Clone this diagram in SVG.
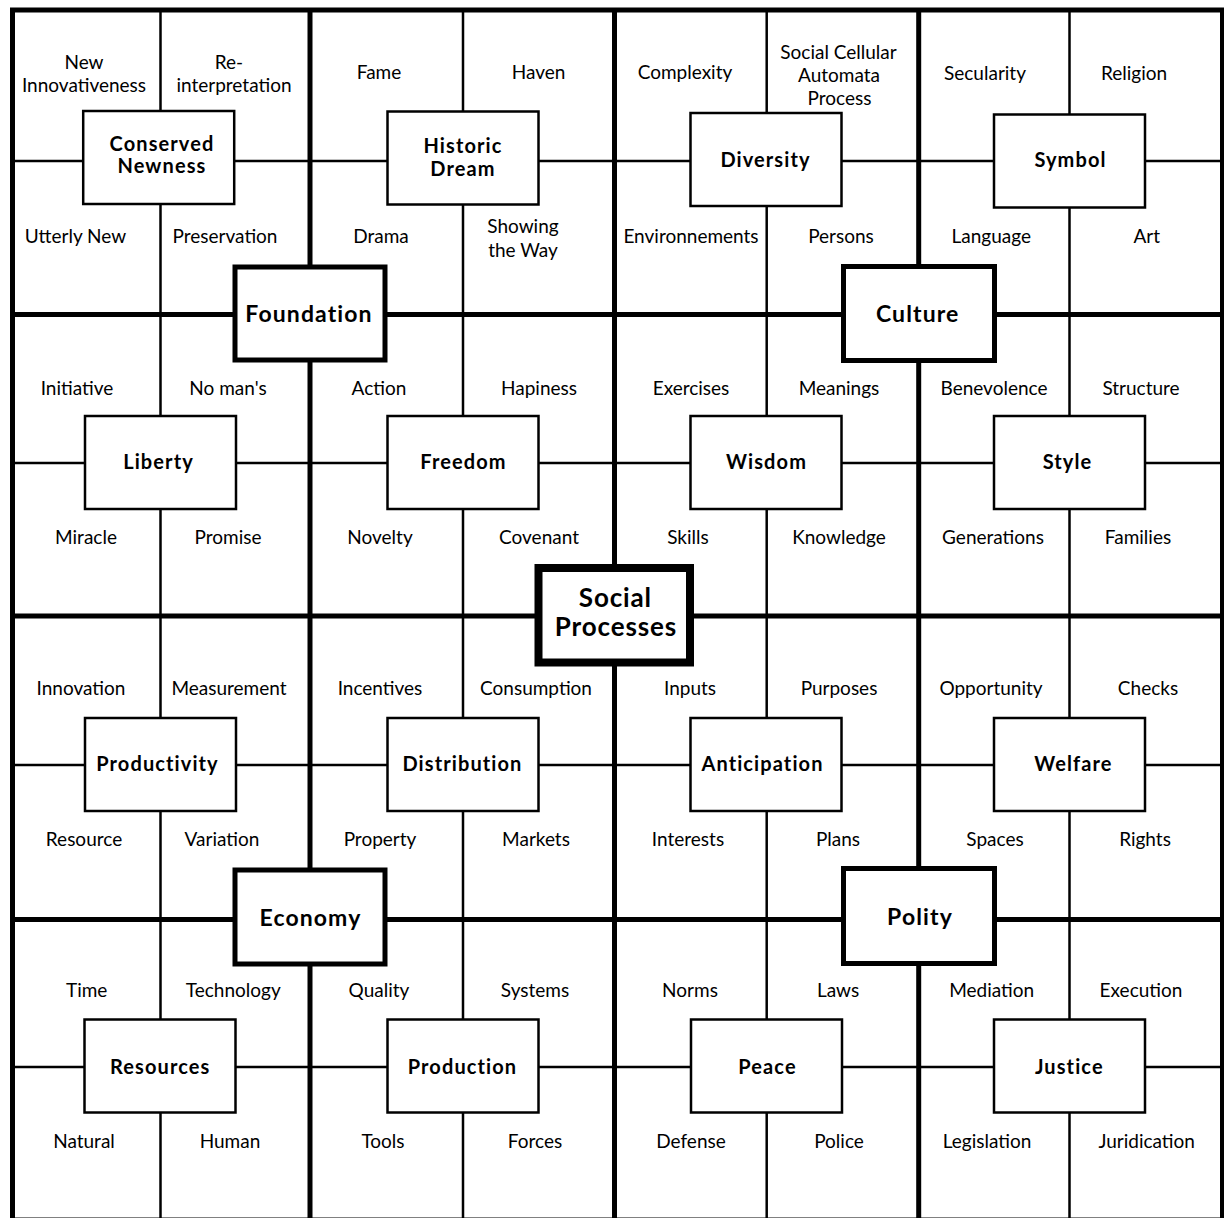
<svg xmlns="http://www.w3.org/2000/svg" width="1224" height="1218" viewBox="0 0 1224 1218">
<style>
.thick{stroke:#000;stroke-width:5;fill:none}
.thin{stroke:#000;stroke-width:2.5;fill:none}
.box{fill:#fff;stroke:#000;stroke-width:2.5}
.major{fill:#fff;stroke:#000;stroke-width:5}
.core{fill:#fff;stroke:#000;stroke-width:8}
text{font-family:Lato,"Liberation Sans",sans-serif;font-size:19px;text-anchor:middle;fill:#000}
.nl{font-weight:700;font-size:20px;letter-spacing:1.1px}
.ml{font-weight:700;font-size:23px;letter-spacing:1.1px}
.cl{font-weight:700;font-size:26px;letter-spacing:0.85px}
</style>
<rect width="1224" height="1218" fill="#fff"/>
<g id="connectors">
<line class="thin" x1="160.5" y1="10" x2="160.5" y2="1218"/>
<line class="thin" x1="463" y1="10" x2="463" y2="1218"/>
<line class="thin" x1="766.7" y1="10" x2="766.7" y2="1218"/>
<line class="thin" x1="1069.5" y1="10" x2="1069.5" y2="1218"/>
<line class="thin" x1="12.5" y1="161" x2="1222" y2="161"/>
<line class="thin" x1="12.5" y1="463" x2="1222" y2="463"/>
<line class="thin" x1="12.5" y1="765" x2="1222" y2="765"/>
<line class="thin" x1="12.5" y1="1067" x2="1222" y2="1067"/>
<line class="thick" x1="310" y1="10" x2="310" y2="1218"/>
<line class="thick" x1="614.5" y1="10" x2="614.5" y2="1218"/>
<line class="thick" x1="918.7" y1="10" x2="918.7" y2="1218"/>
<line class="thick" x1="12.5" y1="314.5" x2="1222" y2="314.5"/>
<line class="thick" x1="12.5" y1="616" x2="1222" y2="616"/>
<line class="thick" x1="12.5" y1="919.5" x2="1222" y2="919.5"/>
<rect class="thick" x="12.5" y="10" width="1210" height="1210"/>
</g>
<g id="labels">
<text x="84" y="69">New</text><text x="84" y="92">Innovativeness</text>
<text x="229" y="69">Re-</text><text x="234" y="92">interpretation</text>
<text x="379" y="78.5">Fame</text>
<text x="538.5" y="78.5">Haven</text>
<text x="685" y="79">Complexity</text>
<text x="838.5" y="59.3">Social Cellular</text><text x="839" y="82">Automata</text><text x="839.5" y="104.5">Process</text>
<text x="985" y="80">Secularity</text>
<text x="1134" y="80">Religion</text>
<text x="75.5" y="242.7">Utterly New</text>
<text x="225" y="242.7">Preservation</text>
<text x="381" y="242.7">Drama</text>
<text x="523" y="233.3">Showing</text><text x="523" y="256.5">the Way</text>
<text x="691" y="242.7">Environnements</text>
<text x="841" y="242.7">Persons</text>
<text x="991.3" y="242.7">Language</text>
<text x="1146.7" y="242.7">Art</text>
<text x="77" y="394.5">Initiative</text>
<text x="228" y="394.5">No man's</text>
<text x="379" y="394.5">Action</text>
<text x="539" y="394.5">Hapiness</text>
<text x="691" y="394.5">Exercises</text>
<text x="839" y="394.5">Meanings</text>
<text x="994" y="394.5">Benevolence</text>
<text x="1141" y="394.5">Structure</text>
<text x="86" y="543.5">Miracle</text>
<text x="228" y="543.5">Promise</text>
<text x="380" y="543.5">Novelty</text>
<text x="539" y="543.5">Covenant</text>
<text x="688" y="543.5">Skills</text>
<text x="839" y="543.5">Knowledge</text>
<text x="993" y="543.5">Generations</text>
<text x="1138" y="543.5">Families</text>
<text x="81" y="694.5">Innovation</text>
<text x="229" y="694.5">Measurement</text>
<text x="380" y="694.5">Incentives</text>
<text x="536" y="694.5">Consumption</text>
<text x="690" y="694.5">Inputs</text>
<text x="839" y="694.5">Purposes</text>
<text x="991" y="694.5">Opportunity</text>
<text x="1148" y="694.5">Checks</text>
<text x="84" y="845.5">Resource</text>
<text x="222" y="845.5">Variation</text>
<text x="380" y="845.5">Property</text>
<text x="536" y="845.5">Markets</text>
<text x="688" y="845.5">Interests</text>
<text x="838" y="845.5">Plans</text>
<text x="995" y="845.5">Spaces</text>
<text x="1145" y="845.5">Rights</text>
<text x="86.7" y="996.7">Time</text>
<text x="233.3" y="996.7">Technology</text>
<text x="379" y="996.7">Quality</text>
<text x="535" y="996.7">Systems</text>
<text x="690" y="996.7">Norms</text>
<text x="838" y="996.7">Laws</text>
<text x="991.7" y="996.7">Mediation</text>
<text x="1141" y="996.7">Execution</text>
<text x="84" y="1147.7">Natural</text>
<text x="230" y="1147.7">Human</text>
<text x="383" y="1147.7">Tools</text>
<text x="535" y="1147.7">Forces</text>
<text x="691" y="1147.7">Defense</text>
<text x="839" y="1147.7">Police</text>
<text x="987" y="1147.7">Legislation</text>
<text x="1146.7" y="1147.7">Juridication</text>
</g>
<g id="node-conserved-newness"><rect class="box" x="83.2" y="111" width="151" height="93"/><text class="nl" x="162" y="150.7">Conserved</text><text class="nl" x="162" y="172.7">Newness</text></g>
<g id="node-historic-dream"><rect class="box" x="387.5" y="111.5" width="151" height="93"/><text class="nl" x="463" y="153.3">Historic</text><text class="nl" x="463" y="176">Dream</text></g>
<g id="node-diversity"><rect class="box" x="690.5" y="113" width="151" height="93"/><text class="nl" x="765.5" y="166.7">Diversity</text></g>
<g id="node-symbol"><rect class="box" x="994" y="114.5" width="151" height="93"/><text class="nl" x="1070.5" y="166.7">Symbol</text></g>
<g id="node-liberty"><rect class="box" x="85" y="416" width="151" height="93"/><text class="nl" x="158.5" y="468.5">Liberty</text></g>
<g id="node-freedom"><rect class="box" x="387.5" y="416" width="151" height="93"/><text class="nl" x="463.5" y="468.5">Freedom</text></g>
<g id="node-wisdom"><rect class="box" x="690.5" y="416" width="151" height="93"/><text class="nl" x="766.5" y="468.5">Wisdom</text></g>
<g id="node-style"><rect class="box" x="994" y="416" width="151" height="93"/><text class="nl" x="1067.5" y="468.5">Style</text></g>
<g id="node-productivity"><rect class="box" x="85" y="718" width="151" height="93"/><text class="nl" x="157.5" y="771">Productivity</text></g>
<g id="node-distribution"><rect class="box" x="387.5" y="718" width="151" height="93"/><text class="nl" x="462.5" y="771">Distribution</text></g>
<g id="node-anticipation"><rect class="box" x="690.5" y="718" width="151" height="93"/><text class="nl" x="762.5" y="771">Anticipation</text></g>
<g id="node-welfare"><rect class="box" x="994" y="718" width="151" height="93"/><text class="nl" x="1073.5" y="771">Welfare</text></g>
<g id="node-resources"><rect class="box" x="84.5" y="1019.5" width="151" height="93"/><text class="nl" x="160.2" y="1074">Resources</text></g>
<g id="node-production"><rect class="box" x="387.5" y="1019.5" width="151" height="93"/><text class="nl" x="462.5" y="1074">Production</text></g>
<g id="node-peace"><rect class="box" x="691" y="1019.5" width="151" height="93"/><text class="nl" x="767.5" y="1074">Peace</text></g>
<g id="node-justice"><rect class="box" x="994" y="1019.5" width="151" height="93"/><text class="nl" x="1069.3" y="1074">Justice</text></g>
<g id="node-foundation"><rect class="major" x="235" y="267" width="150" height="93"/><text class="ml" x="309" y="322">Foundation</text></g>
<g id="node-culture"><rect class="major" x="843.5" y="266.5" width="151" height="94"/><text class="ml" x="917.7" y="321.7">Culture</text></g>
<g id="node-economy"><rect class="major" x="235" y="870" width="150" height="94"/><text class="ml" x="310.5" y="926">Economy</text></g>
<g id="node-polity"><rect class="major" x="843.5" y="868.5" width="151" height="95"/><text class="ml" x="920" y="925">Polity</text></g>
<g id="node-social-processes"><rect class="core" x="538.5" y="568" width="151.5" height="94.5"/><text class="cl" x="615.4" y="607">Social</text><text class="cl" x="615.9" y="636">Processes</text></g>
</svg>
